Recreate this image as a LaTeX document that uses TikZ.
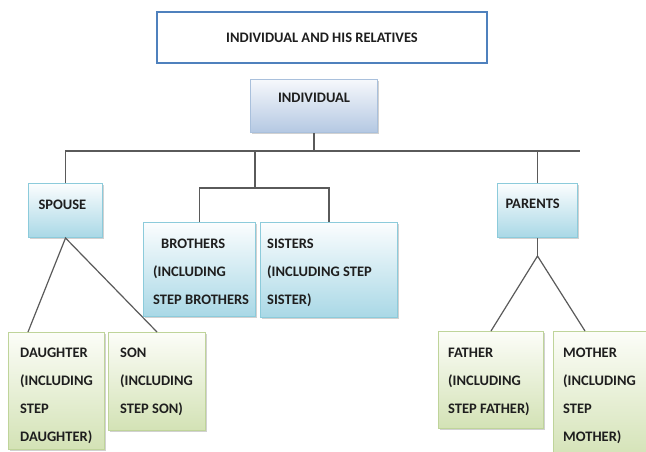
\documentclass[tikz,border=0pt]{standalone}
\usepackage{fontspec}
\setmainfont{Carlito}
\usetikzlibrary{shadows}
\definecolor{lineC}{HTML}{5A5A5A}
\definecolor{titleB}{HTML}{4F81BD}
\definecolor{indTop}{HTML}{F6F8FC}
\definecolor{indBot}{HTML}{B4C8E2}
\definecolor{indB}{HTML}{A9C0DC}
\definecolor{cyTop}{HTML}{FBFDFE}
\definecolor{cyBot}{HTML}{A9D8E6}
\definecolor{cyB}{HTML}{8CCBDB}
\definecolor{grTop}{HTML}{FCFDF8}
\definecolor{grBot}{HTML}{D3E2B5}
\definecolor{grB}{HTML}{BFD49A}
\definecolor{txtC}{HTML}{1E1E1E}
\tikzset{
  basebox/.style={rectangle, anchor=north west, inner ysep=0pt, line width=1pt,
    font=\bfseries\fontsize{14.5}{28}\selectfont, text=txtC,
    drop shadow={shadow xshift=1pt, shadow yshift=-1.8pt, fill=black!60, opacity=0.3}},
  indbox/.style={basebox, draw=indB, top color=indTop, bottom color=indBot},
  cybox/.style={basebox, draw=cyB, top color=cyTop, bottom color=cyBot},
  grbox/.style={basebox, draw=grB, top color=grTop, bottom color=grBot},
  titlebox/.style={rectangle, draw=titleB, line width=2.5pt, fill=white,
    font=\bfseries\fontsize{14.5}{28}\selectfont, text=txtC},
  txt/.style={anchor=north west, inner sep=0pt, align=left,
    font=\bfseries\fontsize{14.5}{28}\selectfont, text=txtC},
  conn/.style={draw=lineC, line width=1.5pt},
}
\begin{document}
\begin{tikzpicture}[x=1pt,y=-1pt]
\useasboundingbox (0,0) rectangle (646,451);
% title
\node[titlebox, minimum width=330pt, minimum height=51pt, text height=9.3pt, text depth=0pt] (title) at (322,37.5) {INDIVIDUAL AND HIS RELATIVES};
% individual
\node[indbox, minimum width=127pt, minimum height=53pt, text height=9.3pt, text depth=16pt] (ind) at (250,79) {INDIVIDUAL};
% level 1
\node[cybox, minimum width=74pt, minimum height=54pt, text width=54pt, inner xsep=10pt, align=left, text height=9.3pt, text depth=12pt] (spouse) at (28,183) {SPOUSE};
\node[cybox, minimum width=80pt, minimum height=54pt, text width=64pt, inner xsep=8pt, align=left, text height=9.3pt, text depth=14pt] (parents) at (497,183) {PARENTS};
\node[cybox, minimum width=112pt, minimum height=94pt] (brothers) at (143,222) {};
\node[cybox, minimum width=137pt, minimum height=95pt] (sisters) at (260,222) {};
% level 2
\node[grbox, minimum width=96pt, minimum height=117pt] (daughter) at (8,332) {};
\node[grbox, minimum width=97pt, minimum height=98pt] (son) at (108,332) {};
\node[grbox, minimum width=105pt, minimum height=97pt] (father) at (438,331) {};
\node[grbox, minimum width=95pt, minimum height=129pt] (mother) at (553,331) {};
% texts of the multi-line boxes
\node[txt] (brothersT) at (153,238.4) {\hspace*{8pt}BROTHERS\\(INCLUDING\\STEP BROTHERS};
\node[txt] (sistersT) at (267,238.4) {SISTERS\\(INCLUDING STEP\\SISTER)};
\node[txt] (daughterT) at (20,347.4) {DAUGHTER\\(INCLUDING\\STEP\\DAUGHTER)};
\node[txt] (sonT) at (120,347.4) {SON\\(INCLUDING\\STEP SON)};
\node[txt] (fatherT) at (448,347.4) {FATHER\\(INCLUDING\\STEP FATHER)};
\node[txt] (motherT) at (563,347.4) {MOTHER\\(INCLUDING\\STEP\\MOTHER)};
% connectors
\coordinate (barR) at (580,151);
\coordinate (sib) at (255,188);
\draw[conn] (spouse.north) |- (barR);
\draw[conn] (ind.south) -- (ind.south |- barR);
\draw[conn] (parents.north) -- (parents.north |- barR);
\draw[conn] (sib |- barR) -- (sib);
\draw[conn] (brothers.north) |- (sisters.north |- sib) -- (sisters.north);
\draw[conn, line width=1.2pt] ([xshift=20pt]daughter.north west) -- (spouse.south) -- (son.north);
\coordinate (pj) at ([yshift=-18pt]parents.south);
\draw[conn] (parents.south) -- (pj);
\draw[conn, line width=1.2pt] (father.north) -- (pj) -- ([xshift=32pt]mother.north west);
\end{tikzpicture}
\end{document}
